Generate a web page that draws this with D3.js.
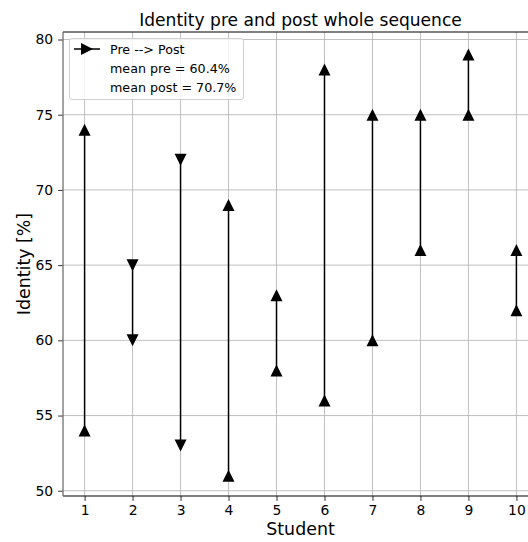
<!DOCTYPE html>
<html><head><meta charset="utf-8">
<script src="https://cdn.jsdelivr.net/npm/d3@7"></script>
<style>body{margin:0;background:#fff}svg{display:block}text{font-family:"DejaVu Sans",sans-serif;fill:#000}</style>
</head><body>
<script>
const students = [1,2,3,4,5,6,7,8,9,10];
const preValues = [54,65,72,51,58,56,60,66,75,62];
const postValues = [74,60,53,69,63,78,75,75,79,66];
const yTicks = [50,55,60,65,70,75,80];
const legendLines = ["Pre --> Post","mean pre = 60.4%","mean post = 70.7%"];
const titleText = "Identity pre and post whole sequence";

const W=528,H=542;
const svg=d3.select("body").append("svg").attr("width",W).attr("height",H);
const L=63,R=538,T=32,B=496;
const x=d3.scaleLinear().domain([0.55,10.45]).range([L,R]);
const y=d3.scaleLinear().domain([49.65,80.5]).range([B,T]);

// grid
const g=svg.append("g");
g.selectAll(".gx").data(students).enter().append("line")
 .attr("x1",d=>x(d)).attr("x2",d=>x(d)).attr("y1",T).attr("y2",B)
 .attr("stroke","#b0b0b0").attr("stroke-width",0.8);
g.selectAll(".gy").data(yTicks).enter().append("line")
 .attr("x1",L).attr("x2",R).attr("y1",d=>y(d)).attr("y2",d=>y(d))
 .attr("stroke","#b0b0b0").attr("stroke-width",0.8);

// data
const data=students.map((s,i)=>({s,pre:preValues[i],post:postValues[i]}));
svg.selectAll(".seg").data(data).enter().append("line")
 .attr("x1",d=>x(d.s)).attr("x2",d=>x(d.s)).attr("y1",d=>y(d.pre)).attr("y2",d=>y(d.post))
 .attr("stroke","#000").attr("stroke-width",1.5);
function triPath(up){return up?"M0,-6L-6,6L6,6Z":"M0,6L-6,-6L6,-6Z";}
data.forEach(d=>{
  const up=d.post>=d.pre;
  [d.pre,d.post].forEach(v=>{
    svg.append("path").attr("d",triPath(up)).attr("transform",`translate(${x(d.s)},${y(v)})`).attr("fill","#000");
  });
});

// axes
const ax=svg.append("g").attr("transform",`translate(0,${B})`).call(d3.axisBottom(x).tickValues(students).tickSize(4.9).tickPadding(4.4).tickFormat(d3.format("d")));
const ay=svg.append("g").attr("transform",`translate(${L},0)`).call(d3.axisLeft(y).tickValues(yTicks).tickSize(4.9).tickPadding(4.9));
[ax,ay].forEach(a=>{a.select(".domain").remove();a.selectAll("text").attr("font-size",13.9).attr("font-family","DejaVu Sans");a.selectAll("line").attr("stroke","#000").attr("stroke-width",0.8);});
// spines
svg.append("line").attr("x1",L).attr("x2",R).attr("y1",T).attr("y2",T).attr("stroke","#000").attr("stroke-width",1);
svg.append("line").attr("x1",L).attr("x2",R).attr("y1",B).attr("y2",B).attr("stroke","#000").attr("stroke-width",1);
svg.append("line").attr("x1",R).attr("x2",R).attr("y1",T).attr("y2",B).attr("stroke","#000").attr("stroke-width",1);
svg.append("line").attr("x1",L).attr("x2",L).attr("y1",T).attr("y2",B).attr("stroke","#707070").attr("stroke-width",1.3);

// title & labels
svg.append("text").attr("x",(L+R)/2).attr("y",26).attr("text-anchor","middle").attr("font-size",17.1).text(titleText);
svg.append("text").attr("x",(L+R)/2).attr("y",535).attr("text-anchor","middle").attr("font-size",17.4).text("Student");
svg.append("text").attr("transform",`translate(30,${(T+B)/2}) rotate(-90)`).attr("text-anchor","middle").attr("font-size",17.4).text("Identity [%]");

// legend
const lg=svg.append("g");
lg.append("rect").attr("x",69.5).attr("y",38.5).attr("width",174).attr("height",61).attr("rx",2.5)
 .attr("fill","#fff").attr("fill-opacity",0.8).attr("stroke","#d0d0d0").attr("stroke-width",1);
lg.append("line").attr("x1",74).attr("x2",100).attr("y1",49).attr("y2",49).attr("stroke","#000").attr("stroke-width",1.5);
lg.append("path").attr("d","M6,0L-6,-6L-6,6Z").attr("transform","translate(87,49)").attr("fill","#000");
legendLines.forEach((t,i)=>lg.append("text").attr("x",110).attr("y",53.5+i*19).attr("font-size",12.7).text(t));
</script>
</body></html>
